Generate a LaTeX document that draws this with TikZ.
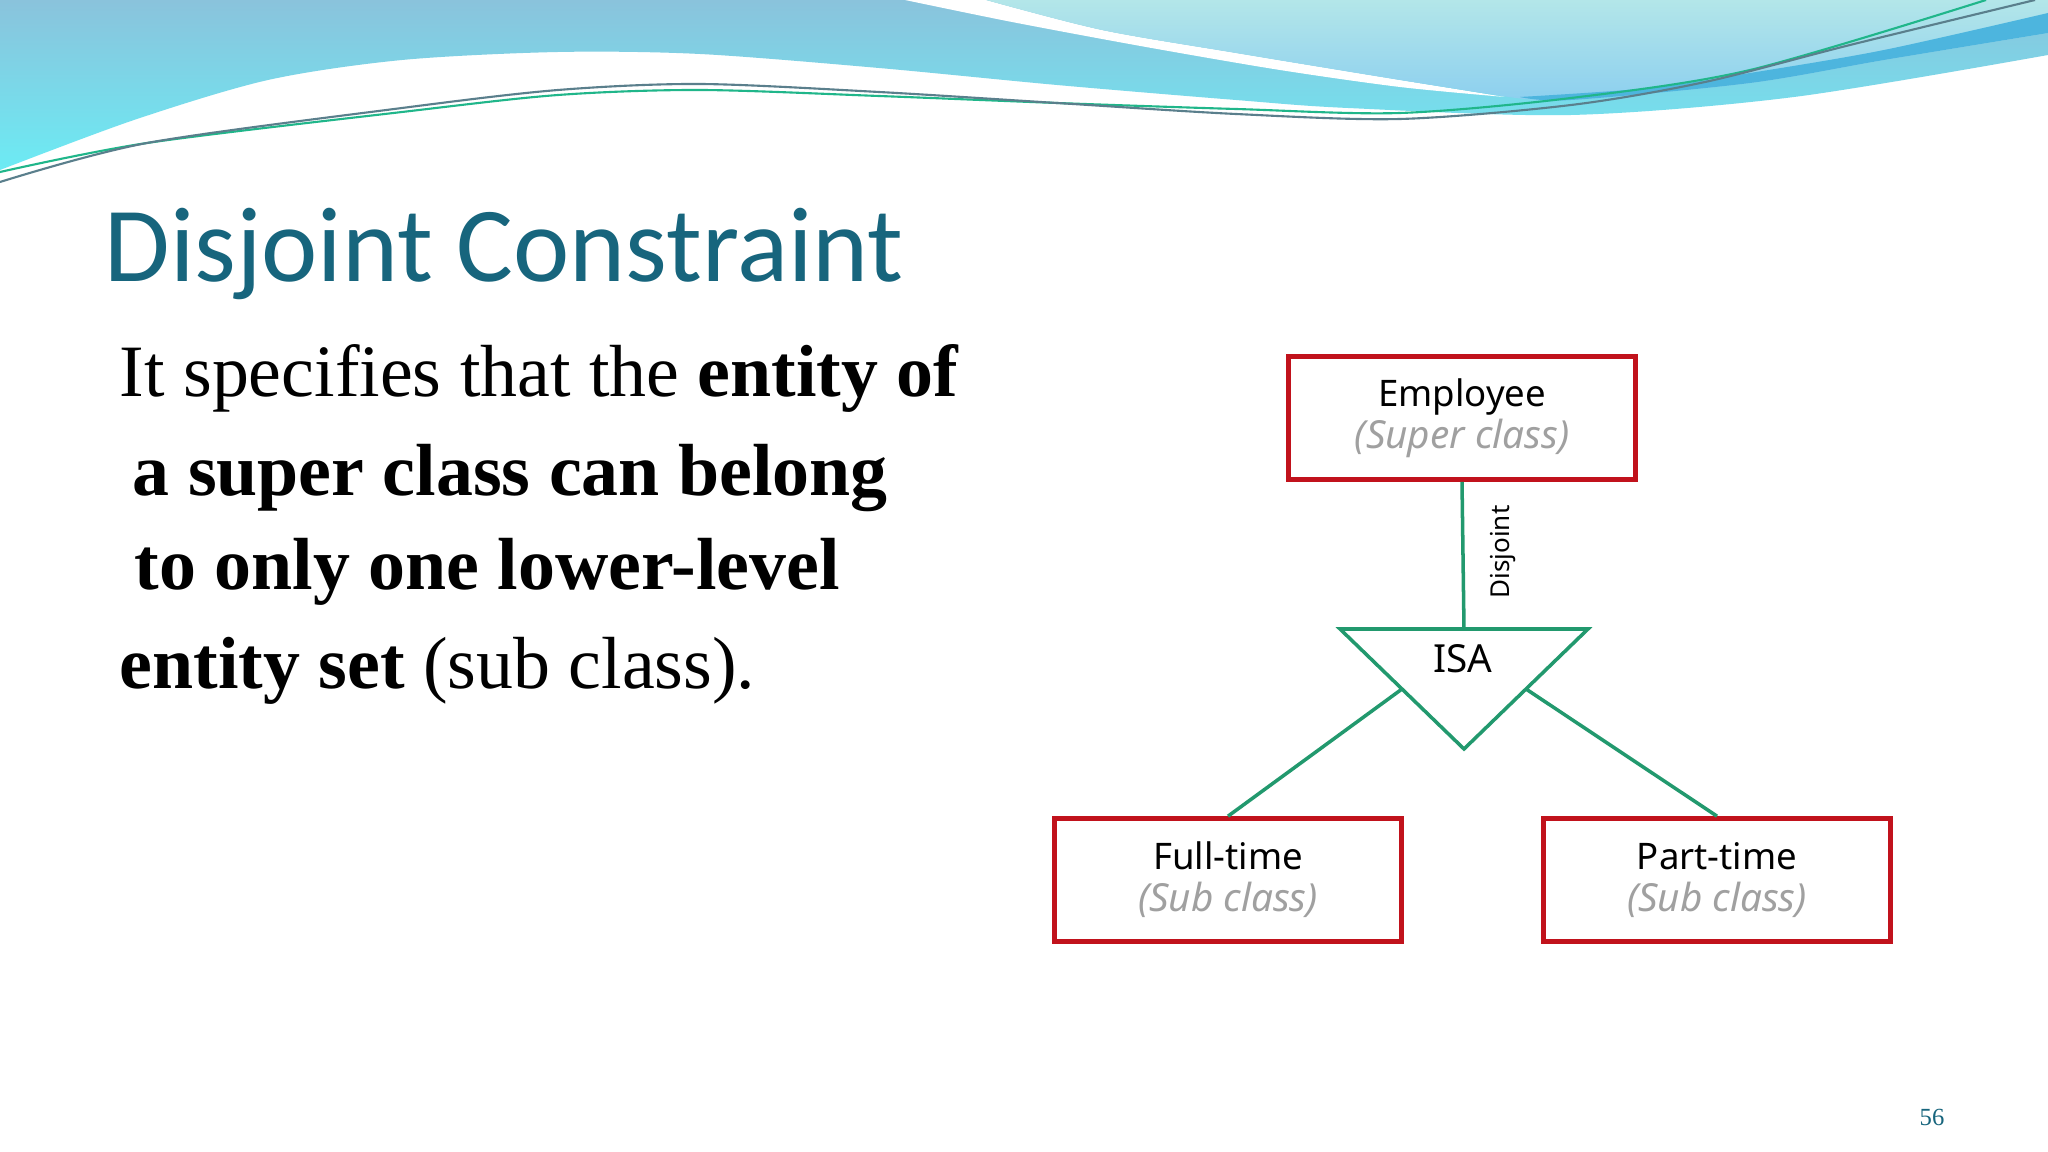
\documentclass[tikz,border=0pt]{standalone}
\usepackage{fontspec}
\setmainfont{Liberation Serif}
\newfontfamily\titlefont{Carlito}
\newfontfamily\erfont{Noto Sans}
\usetikzlibrary{calc}

\definecolor{hdrblue}{HTML}{8AC3DC}
\definecolor{hdrcyan}{HTML}{6CEBF4}
\definecolor{hdrlight}{HTML}{B3E6E9}
\definecolor{hdrsky}{HTML}{8CCFEF}
\definecolor{hdrband}{HTML}{4DB5DE}
\definecolor{hdrgreen}{HTML}{20B68A}
\definecolor{hdrgray}{HTML}{5A7F8C}
\definecolor{titleblue}{HTML}{17657D}
\definecolor{erred}{HTML}{C1121C}
\definecolor{ergreen}{HTML}{22996E}
\definecolor{ergray}{HTML}{A0A0A0}

\tikzset{
  entity/.style={draw=erred, line width=1.3pt, minimum width=3.47cm, minimum height=1.23cm, align=center, inner sep=0pt, font=\erfont\fontsize{10.4}{12}\selectfont},
  link/.style={draw=ergreen, line width=1pt},
  bodyline/.style={anchor=base west, inner sep=0pt, font=\fontsize{21}{25}\selectfont}
}
\newcommand{\subtag}[1]{{\fontsize{11}{12}\selectfont\itshape\color{ergray}#1}}

\begin{document}
\begin{tikzpicture}[x=0.01cm, y=-0.01cm]

\fill[white] (0,0) rectangle (2048,1152);
\useasboundingbox (0,0) rectangle (2048,1152);

\shade[top color=hdrblue, bottom color=hdrcyan] (0,0) -- (2048,0) -- (2048,55) -- plot[smooth] coordinates {(2048,55) (1794,97) (1571,115) (1348,108) (1236,100) (1057,85) (879,68) (700,54) (558,52) (402,60) (268,80) (134,120) (0,170)} -- cycle;
\fill[white] plot[smooth] coordinates {(905,0) (1012,22) (1146,47) (1280,70) (1400,87) (1505,97)} -- plot[smooth] coordinates {(1505,97) (1400,80) (1236,53) (1102,30) (986,0)} -- cycle;
\shade[top color=hdrlight, bottom color=hdrsky] plot[smooth] coordinates {(986,0) (1102,30) (1236,53) (1400,80) (1509,97)} -- plot[smooth] coordinates {(1509,97) (1571,100) (1750,83) (1884,60) (2048,33)} -- (2048,0) -- cycle;
\fill[hdrband] plot[smooth] coordinates {(1520,97) (1650,88) (1750,73) (1884,50) (2048,13)} -- plot[smooth] coordinates {(2048,33) (1884,60) (1750,83) (1571,100) (1520,97)} -- cycle;

\draw[hdrgreen, line width=0.6pt] plot[smooth] coordinates {(0,172) (147,143) (402,112) (558,95) (700,90) (879,96) (1057,103) (1236,109) (1400,113) (1571,98) (1750,70) (1986,0)};
\draw[hdrgray, line width=0.6pt] plot[smooth] coordinates {(0,182) (147,143) (402,108) (558,90) (700,84) (879,92) (1057,103) (1236,114) (1400,119) (1571,105) (1705,82) (1850,45) (2035,0)};

\node[anchor=base west, inner sep=0pt, text=titleblue, font=\titlefont\fontsize{30.3}{36}\selectfont] (title) at (104,282) {Disjoint Constraint};

\node[bodyline] (l1) at (119,397) {It specifies that the \textbf{entity of}};
\node[bodyline] (l2) at (132,496) {\textbf{a super class can belong}};
\node[bodyline] (l3) at (134,590) {\textbf{to only one lower-level}};
\node[bodyline] (l4) at (119,689) {\textbf{entity set} (sub class).};

\node[entity] (emp) at (1462,418) {Employee\\\subtag{(Super class)}};
\node[entity] (full) at (1228,880) {Full-time\\\subtag{(Sub class)}};
\node[entity] (part) at (1717,880) {Part-time\\\subtag{(Sub class)}};

\coordinate (isaL) at (1340,629);
\coordinate (isaR) at (1588,629);
\coordinate (isaB) at (1464,749);
\draw[link, line join=miter] (isaL) -- (isaR) -- (isaB) -- cycle;
\node[inner sep=0pt, font=\erfont\fontsize{11}{12}\selectfont] (isa) at (1463,659) {ISA};

\draw[link] (emp.south) -- ($(isaL)!0.5!(isaR)$);
\draw[link] ($(isaL)!0.5!(isaB)$) -- (full.north);
\draw[link] ($(isaR)!0.5!(isaB)$) -- (part.north);

\node[rotate=90, inner sep=0pt, font=\erfont\fontsize{7.4}{9}\selectfont] (disj) at (1503,552) {Disjoint};

\node[inner sep=0pt, text=titleblue, font=\fontsize{7}{8}\selectfont] (pagenum) at (1932,1117) {56};

\end{tikzpicture}
\end{document}
